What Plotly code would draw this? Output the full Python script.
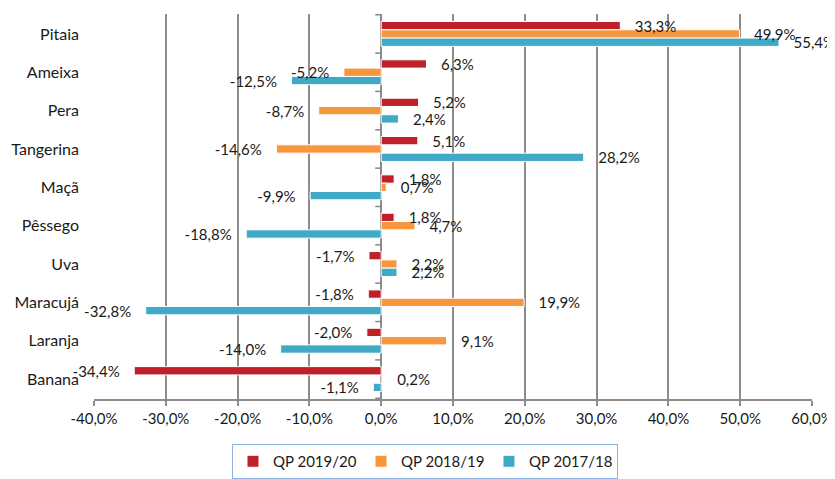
import plotly.graph_objects as go

categories = ["Pitaia", "Ameixa", "Pera", "Tangerina", "Maçã", "Pêssego",
              "Uva", "Maracujá", "Laranja", "Banana"]
qp_2019_20 = [33.3, 6.3, 5.2, 5.1, 1.8, 1.8, -1.7, -1.8, -2.0, -34.4]
qp_2018_19 = [49.9, -5.2, -8.7, -14.6, 0.7, 4.7, 2.2, 19.9, 9.1, 0.2]
qp_2017_18 = [55.4, -12.5, 2.4, 28.2, -9.9, -18.8, 2.2, -32.8, -14.0, -1.1]
series_names = ["QP 2019/20", "QP 2018/19", "QP 2017/18"]
series_colors = ["#c0202a", "#f7963c", "#3fa9c6"]
x_ticks = [-40, -30, -20, -10, 0, 10, 20, 30, 40, 50, 60]

FONT = "Lato, 'Open Sans', sans-serif"
FS = 15
NB = "\u00a0\u00a0\u00a0"


def label(v):
    s = f"{v:.1f}%".replace(".", ",")
    return NB + s if v >= 0 else s + NB


series = [qp_2019_20, qp_2018_19, qp_2017_18]
fig = go.Figure()
for k, (name, vals, col) in enumerate(zip(series_names, series, series_colors)):
    fig.add_trace(go.Bar(
        name=name, y=categories, x=vals, orientation="h", offsetgroup=str(k),
        marker=dict(color=col, line=dict(color="white", width=1)),
        hoverinfo="x+y",
    ))
# text layer on top of all bars (same offset groups, transparent bars)
for k, vals in enumerate(series):
    fig.add_trace(go.Bar(
        y=categories, x=vals, orientation="h", offsetgroup=str(k),
        marker=dict(color="rgba(0,0,0,0)", line=dict(width=0)),
        text=[label(v) for v in vals], textposition="outside",
        constraintext="none", cliponaxis=False, showlegend=False,
        textfont=dict(family=FONT, size=FS, color="#1a1a1a"),
        hoverinfo="skip",
    ))

shapes = []
for i in range(len(categories) + 1):
    shapes.append(dict(type="line", xref="x", yref="y", xsizemode="pixel", xanchor=0,
                       x0=-6, x1=0, y0=i - 0.5, y1=i - 0.5,
                       line=dict(color="#868686", width=1.5)))

fig.update_layout(
    width=835, height=471,
    margin=dict(l=86, r=31, t=6, b=80),
    paper_bgcolor="white", plot_bgcolor="white",
    barmode="group", bargap=0.35, bargroupgap=0,
    separators=", ",
    font=dict(family=FONT, size=FS, color="#1a1a1a"),
    shapes=shapes,
    showlegend=True,
    legend=dict(orientation="h", xref="paper", x=0.461, xanchor="center",
                yref="container", y=0, yanchor="bottom",
                bordercolor="#8eb4e3", borderwidth=1, bgcolor="white",
                font=dict(family=FONT, size=FS, color="#1a1a1a"),
                itemwidth=30, entrywidth=83, tracegroupgap=0),
    xaxis=dict(range=[-40, 60], tickvals=x_ticks, automargin=False,
               ticktext=[f"{t:.1f}%".replace(".", ",") for t in x_ticks],
               showgrid=True, gridcolor="#8c8c8c", gridwidth=1.5,
               zeroline=True, zerolinecolor="#8c8c8c", zerolinewidth=2,
               showline=True, linecolor="#8c8c8c", linewidth=2,
               ticks="outside", ticklen=5, tickcolor="#8c8c8c", tickwidth=1.5,
               tickfont=dict(family=FONT, size=FS, color="#1a1a1a")),
    yaxis=dict(autorange="reversed", showgrid=False, zeroline=False, showline=False,
               ticks="", ticklabelstandoff=14, automargin=False,
               tickfont=dict(family=FONT, size=16, color="#1a1a1a")),
)

fig.write_html("out.html")
